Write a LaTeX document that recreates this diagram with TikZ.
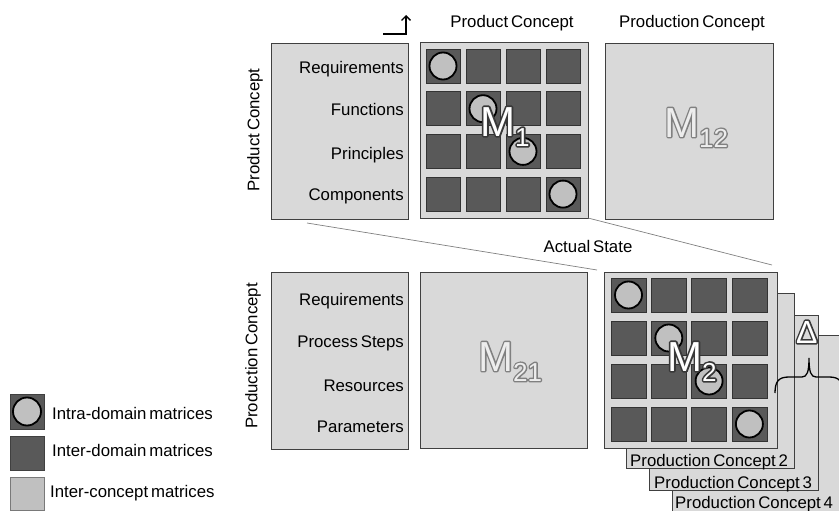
\documentclass[tikz,border=0pt]{standalone}
\usepackage{fontspec}
\setmainfont{Liberation Sans}[WordSpace=0.6]
\usetikzlibrary{arrows.meta}
\definecolor{panel}{HTML}{D9D9D9}
\definecolor{cellc}{HTML}{595959}
\definecolor{circc}{HTML}{C0C0C0}
\definecolor{edgec}{HTML}{404040}
\definecolor{pline}{HTML}{808080}
\definecolor{lfill}{HTML}{EDEDED}
% stroked (outline only) text: #1 stroke gray level, #2 stroke width, #3 text
\newcommand\strk[3]{\special{pdf:literal direct #1 G #2 w 1 j 1 J 1 Tr}#3\special{pdf:literal direct 0 Tr}}
\newcommand\mlabel[1]{{\fontsize{42}{42}\selectfont M}{\fontsize{26}{26}\selectfont\raisebox{-10pt}{#1}}}
\begin{document}
\begin{tikzpicture}[x=1pt,y=-1pt,
  every node/.style={font=\fontsize{16.8}{19}\selectfont, text=black},
  panelbox/.style={draw=edgec, fill=panel, line width=0.8pt, inner sep=0pt},
  cellbox/.style={draw=black!80, fill=cellc, line width=0.6pt, minimum width=34pt, minimum height=34pt, inner sep=0pt},
  circ/.style={circle, draw=black, fill=circc, line width=1.8pt, minimum size=27pt, inner sep=0pt},
  lbl/.style={anchor=base east, inner sep=0pt},
  lbw/.style={anchor=base west, inner sep=0pt},
  mtext/.style={anchor=base west, inner sep=0pt},
  persp/.style={draw=pline, line width=0.7pt}]
\useasboundingbox (0,0) rectangle (839,511);

% top row
\node[panelbox, minimum width=137pt, minimum height=176pt] (labTop) at (339.5,131) {};
\node[panelbox, minimum width=168pt, minimum height=176pt] (M1box) at (504,130) {};
\node[panelbox, minimum width=168pt, minimum height=176pt] (M12box) at (689,131) {};
\foreach \r in {1,...,4} \foreach \c in {1,...,4}
  \node[cellbox] (mA-\r-\c) at ({443+40*(\c-1)},{66+42.7*(\r-1)}) {};
\foreach \i in {1,...,4} \node[circ] (cA-\i) at (mA-\i-\i) {};

\node[lbl] (t1) at (404,74) {Requirements};
\node[lbl] (t2) at (404,116) {Functions};
\node[lbl] (t3) at (404,160) {Principles};
\node[lbl] (t4) at (404,200) {Components};

\node[anchor=base, inner sep=0pt] (hPC) at (512,28) {Product Concept};
\node[anchor=base, inner sep=0pt] (hPrC) at (692,28) {Production Concept};
\node[rotate=90, inner sep=0pt] (vPC) at (255,130) {Product Concept};
\node[rotate=90, inner sep=0pt] (vPrC) at (253,356) {Production Concept};

% arrow top-left
\coordinate (arS) at (383,34);
\coordinate (arC) at (406,34);
\coordinate (arE) at (406,15);
\draw[line width=1.3pt, -{Straight Barb[length=4.5pt,width=9pt]}] (arS) -- (arC) -- (arE);

% perspective lines
\coordinate (p1a) at (307,223);
\coordinate (p1b) at (597,270);
\coordinate (p2a) at (588,218);
\coordinate (p2b) at (772,265);
\draw[persp] (p1a) -- (p1b);
\draw[persp] (p2a) -- (p2b);
\node[anchor=base, inner sep=0pt] (aState) at (588,252) {Actual State};

% bottom row
\node[panelbox, minimum width=137pt, minimum height=177pt] (labBot) at (339.5,360.5) {};
\node[panelbox, minimum width=167pt, minimum height=176pt] (M21box) at (503.5,360) {};
\node[lbl] (b1) at (404,305) {Requirements};
\node[lbl] (b2) at (404,347) {Process Steps};
\node[lbl] (b3) at (404,391) {Resources};
\node[lbl] (b4) at (404,432) {Parameters};

% stack of layers
\node[panelbox, minimum width=173pt, minimum height=180pt] (L4) at (758.5,425) {};
\node[panelbox, minimum width=169pt, minimum height=175pt] (L3) at (733.5,402.5) {};
\node[panelbox, minimum width=168pt, minimum height=175pt] (L2) at (710,380.5) {};
\node[lbw] (pc2) at (630,466) {Production Concept 2};
\node[lbw] (pc3) at (654,488) {Production Concept 3};
\node[lbw] (pc4) at (675,508) {Production Concept 4};
\node[panelbox, minimum width=173pt, minimum height=176pt] (M2box) at (690.5,360) {};
\foreach \r in {1,...,4} \foreach \c in {1,...,4}
  \node[cellbox, minimum width=35pt] (mB-\r-\c) at ({628.5+40.3*(\c-1)},{295+43*(\r-1)}) {};
\foreach \i in {1,...,4} \node[circ] (cB-\i) at (mB-\i-\i) {};

% brace
\draw[line width=1.3pt] (775,393) .. controls (775,381) and (779,377) .. (789,377)
  -- (802,377) .. controls (807,377) and (809,372) .. (809,358)
  .. controls (809,372) and (811,377) .. (816,377)
  -- (829,377) .. controls (839,377) and (843,381) .. (843,393);

% outlined labels: stroked copy behind, filled copy on top
\node[mtext] (sM1) at (480,136) {\strk{0.22}{3.4}{\mlabel{1}}};
\node[mtext, text=white] (lM1) at (480,136) {\mlabel{1}};
\node[mtext] (sM12) at (664,137) {\strk{0.5}{2.8}{\mlabel{12}}};
\node[mtext, text=lfill] (lM12) at (664,137) {\mlabel{12}};
\node[mtext] (sM21) at (478,371) {\strk{0.5}{2.8}{\mlabel{21}}};
\node[mtext, text=lfill] (lM21) at (478,371) {\mlabel{21}};
\node[mtext] (sM2) at (667,371) {\strk{0.22}{3.4}{\mlabel{2}}};
\node[mtext, text=white] (lM2) at (667,371) {\mlabel{2}};
\node[mtext] (sDelta) at (796,343) {\strk{0.22}{3.0}{\fontsize{32}{32}\selectfont Δ}};
\node[mtext, text=white] (lDelta) at (796,343) {\fontsize{32}{32}\selectfont Δ};

% legend
\node[draw=edgec, fill=cellc, line width=0.8pt, minimum width=34pt, minimum height=35pt, inner sep=0pt] (lg1) at (27,411.5) {};
\node[circle, draw=black, fill=circc, line width=1.8pt, minimum size=28pt, inner sep=0pt] (lg1c) at (lg1) {};
\node[draw=edgec, fill=cellc, line width=0.8pt, minimum width=34pt, minimum height=34pt, inner sep=0pt] (lg2) at (27,453) {};
\node[draw=edgec!70, fill=circc, line width=0.8pt, minimum width=34pt, minimum height=33pt, inner sep=0pt] (lg3) at (27,493.5) {};
\node[lbw] (lt1) at (52,419) {Intra-domain matrices};
\node[lbw] (lt2) at (52,456) {Inter-domain matrices};
\node[lbw] (lt3) at (50,497) {Inter-concept matrices};
\end{tikzpicture}
\end{document}
